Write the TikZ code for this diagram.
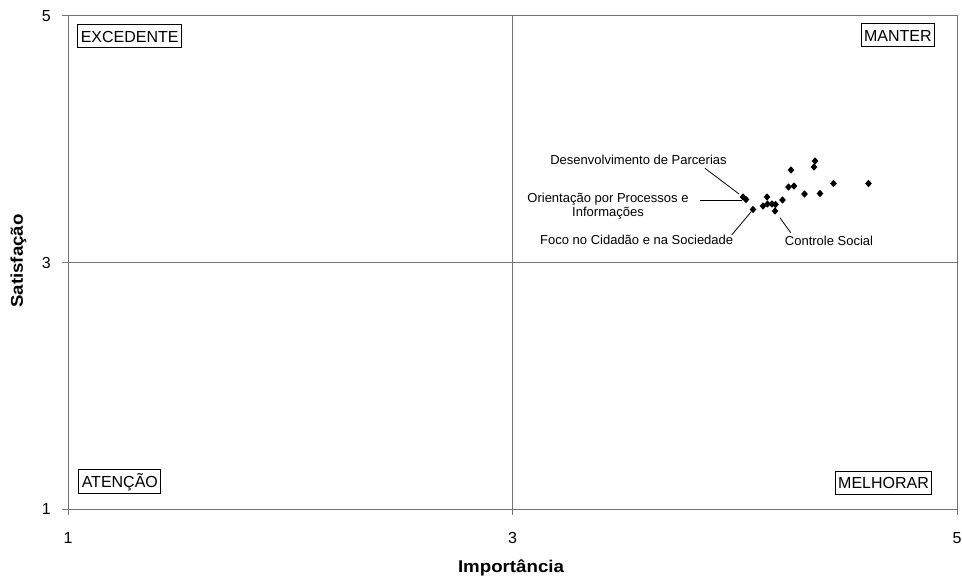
\documentclass[tikz,border=0pt]{standalone}
\usepackage{fontspec}
\setmainfont{Liberation Sans}
\usetikzlibrary{shapes.geometric}
\tikzset{
  gridline/.style={draw=black!55, line width=0.9pt},
  quadbox/.style={draw=black, line width=0.9pt, font=\fontsize{16}{18}\selectfont,
    text height=12.5pt, text depth=0pt, inner ysep=5.5pt, inner xsep=3pt},
  datapt/.style={diamond, fill=black, inner sep=0pt, minimum width=7pt, minimum height=7.4pt},
  ptlabel/.style={font=\fontsize{13}{14}\selectfont, inner sep=0pt, text height=9.3pt, text depth=0pt},
  leader/.style={draw=black, line width=0.8pt},
  ticklabel/.style={font=\fontsize{16}{18}\selectfont, inner sep=0pt, text height=11.5pt, text depth=0pt},
  axistitle/.style={font=\fontsize{17}{20}\selectfont\bfseries, inner sep=0pt}
}
\begin{document}
\begin{tikzpicture}[x=1pt,y=-1pt]
\useasboundingbox (0,0) rectangle (962,581);
% frame corners
\coordinate (tl) at (68,15.5);
\coordinate (tr) at (957,15.5);
\coordinate (bl) at (68,509);
\coordinate (br) at (957,509);
\coordinate (mt) at (512.5,15.5);
\coordinate (mb) at (512.5,509);
\coordinate (ml) at (68,262.3);
\coordinate (mr) at (957,262.3);
% plot frame and mid lines
\draw[gridline] (tl) rectangle (br);
\draw[gridline] (mt) -- (mb);
\draw[gridline] (ml) -- (mr);
% ticks
\foreach \y in {15.5,262.3,509} \draw[gridline] (62,\y) -- (68,\y);
\foreach \x in {68,512.5,957} \draw[gridline] (\x,509) -- (\x,515);
% tick labels
\node[ticklabel, anchor=east] (y5) at (51,15.5) {5};
\node[ticklabel, anchor=east] (y3) at (51,262.3) {3};
\node[ticklabel, anchor=east] (y1) at (51,509) {1};
\node[ticklabel] (x1) at (68,537.5) {1};
\node[ticklabel] (x3) at (512.5,537.5) {3};
\node[ticklabel] (x5) at (957,537.5) {5};
% axis titles
\node[axistitle] (xt) at (511,568) {\scalebox{1.1}[1]{Importância}};
\node[axistitle, rotate=90] (yt) at (18.5,261) {\scalebox{1.1}[1]{Satisfação}};
% quadrant labels
\node[quadbox, anchor=west] (exc) at (77.3,35.8) {EXCEDENTE};
\node[quadbox, anchor=east] (man) at (935,34.8) {MANTER};
\node[quadbox, anchor=west] (ate) at (78.3,481.3) {ATENÇÃO};
\node[quadbox, anchor=east] (mel) at (932.3,482.7) {MELHORAR};
% data points
\node[datapt] (p1) at (743,197) {};
\node[datapt] (p2) at (746,199.5) {};
\node[datapt] (p3) at (753,209.5) {};
\node[datapt] (p4) at (763,206) {};
\node[datapt] (p5) at (767,197) {};
\node[datapt] (p6) at (767.5,204) {};
\node[datapt] (p7) at (772,204) {};
\node[datapt] (p8) at (775.5,204.5) {};
\node[datapt] (p9) at (775,211) {};
\node[datapt] (p10) at (782.5,200) {};
\node[datapt] (p11) at (788.5,187) {};
\node[datapt] (p12) at (794,186) {};
\node[datapt] (p13) at (791,170) {};
\node[datapt] (p14) at (804.5,194) {};
\node[datapt] (p15) at (814,167) {};
\node[datapt] (p16) at (815,161) {};
\node[datapt] (p17) at (820,193.5) {};
\node[datapt] (p18) at (833.5,183.5) {};
\node[datapt] (p19) at (868.5,183.5) {};
% point labels
\node[ptlabel] (dp) at (638.5,160) {Desenvolvimento de Parcerias};
\node[ptlabel, align=center, text height=, text depth=, anchor=base] (op) at (608,216.4)
  {Orientação por Processos e\\Informações};
\node[ptlabel] (fc) at (636.7,240) {Foco no Cidadão e na Sociedade};
\node[ptlabel] (cs) at (829,241) {Controle Social};
% leader line ends
\coordinate (c1) at (705,168.3);
\coordinate (c2) at (700,200.8);
\coordinate (c3) at (731.7,235);
\coordinate (c4) at (790.7,232.7);
\draw[leader, shorten >=2pt] (c1) -- (p1);
\draw[leader] (c2) -- (c2 -| p2.west);
\draw[leader] (c3) -- (p3);
\draw[leader, shorten >=5.5pt] (c4) -- (p9);
\end{tikzpicture}
\end{document}
